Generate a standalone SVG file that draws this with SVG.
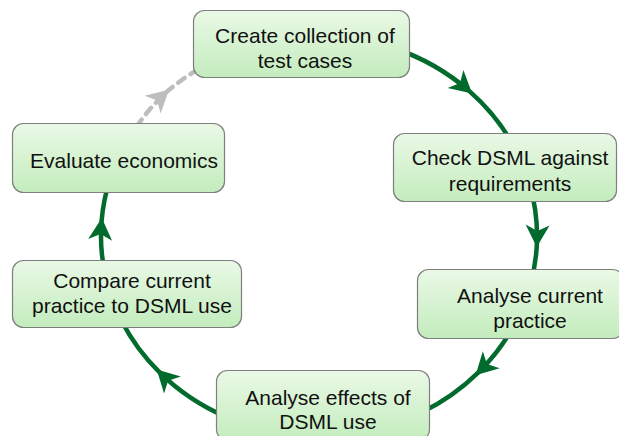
<svg xmlns="http://www.w3.org/2000/svg" width="619" height="436" viewBox="0 0 619 436">
<defs>
<linearGradient id="g" x1="0" y1="0" x2="0" y2="1">
<stop offset="0" stop-color="#eaf9e6"/>
<stop offset="1" stop-color="#c3ecbd"/>
</linearGradient>
<marker id="ag" markerUnits="userSpaceOnUse" markerWidth="40" markerHeight="40" refX="0" refY="0" orient="auto" overflow="visible">
<path d="M4,0 L-18,-12 L-12,0 L-18,12 Z" fill="#006b2c"/>
</marker>
<marker id="ay" markerUnits="userSpaceOnUse" markerWidth="40" markerHeight="40" refX="0" refY="0" orient="auto" overflow="visible">
<path d="M4,0 L-18,-12 L-12,0 L-18,12 Z" fill="#bdbdbd"/>
</marker>
</defs>
<style>
.n rect{fill:url(#g);stroke:#7f7f7f;stroke-width:1.2}
.n text{font-family:"Liberation Sans",Arial,sans-serif;font-size:21px;fill:#111;text-anchor:middle}
.c{fill:none;stroke:#006b2c;stroke-width:4.5;marker-mid:url(#ag)}
.d{fill:none;stroke:#bdbdbd;stroke-width:4.5;stroke-dasharray:8 7;stroke-linecap:round;marker-mid:url(#ay)}
</style>
<g id="connectors">
<path class="c" d="M393.6,48 A218,200 0 0 1 469.1,90.9 A218,200 0 0 1 516.6,151.5"/>
<path class="c" d="M529.6,184.2 A218,200 0 0 1 536.9,243 A218,200 0 0 1 529.6,287.8"/>
<path class="c" d="M511.5,329.9 A218,200 0 0 1 478.4,372.4 A218,200 0 0 1 421.4,412.6"/>
<path class="c" d="M226.9,417.3 A218,200 0 0 1 159.6,372.4 A218,200 0 0 1 121.4,320.5"/>
<path class="c" d="M105.8,277.6 A218,200 0 0 1 101.5,222 A218,200 0 0 1 110.5,177.5"/>
<path class="d" d="M137,126 A218,200 0 0 1 166,92.5 A218,200 0 0 1 210,62.8"/>
</g>
<g id="n1" class="n"><rect x="193.5" y="10.5" width="216" height="67" rx="11"/><text x="305" y="43">Create collection of</text><text x="305" y="68">test cases</text></g>
<g id="n2" class="n"><rect x="393.5" y="133.5" width="223" height="68" rx="11"/><text x="510" y="165">Check DSML against</text><text x="510" y="191">requirements</text></g>
<g id="n3" class="n"><rect x="417.5" y="269.5" width="206" height="69" rx="11"/><text x="530" y="303">Analyse current</text><text x="530" y="328">practice</text></g>
<g id="n4" class="n"><rect x="216.5" y="370.5" width="213" height="70" rx="11"/><text x="328" y="405">Analyse effects of</text><text x="328" y="429">DSML use</text></g>
<g id="n5" class="n"><rect x="12.5" y="260.5" width="229" height="67" rx="11"/><text x="132" y="288">Compare current</text><text x="132" y="313">practice to DSML use</text></g>
<g id="n6" class="n"><rect x="12.5" y="123.5" width="212" height="69" rx="11"/><text x="124" y="168">Evaluate economics</text></g>
</svg>
